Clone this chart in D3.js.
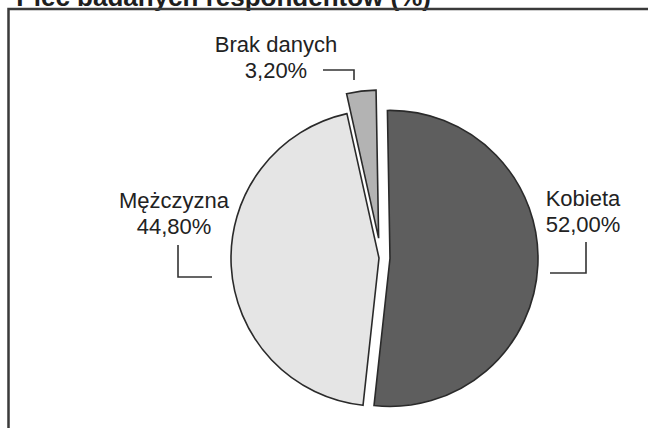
<!DOCTYPE html>
<html>
<head>
<meta charset="utf-8">
<script src="https://cdn.jsdelivr.net/npm/d3@7"></script>
<style>
  html, body { margin: 0; padding: 0; background: #ffffff; }
  svg { display: block; }
</style>
</head>
<body>
<svg id="chart" width="648" height="428"></svg>
<script>
// ---- data ----
const categories = ["Kobieta", "Mężczyzna", "Brak danych"];
const values = [52.0, 44.8, 3.2];
const titleText = "Płeć badanych respondentów (%)";

// ---- layout (not data) ----
const W = 648, H = 428;
const center = { x: 381, y: 258 };
const radius = 148;
const explode = [9, 2, 20];
const startDeg = -1;
const fills = ["#5e5e5e", "#e5e5e5", "#b3b3b3"];
const labelLayout = [
  { x: 583, y: 206, line: [[550, 273], [586, 273], [586, 242]] },
  { x: 174, y: 208, line: [[178, 245], [178, 277], [212, 277]] },
  { x: 276, y: 52,  line: [[323, 70], [354, 70], [354, 80]] }
];

const svg = d3.select("#chart");
svg.append("rect").attr("width", W).attr("height", H).attr("fill", "#ffffff");

// title (partly cut off at the top, as in the reference)
svg.append("text")
  .attr("x", 431).attr("y", 6)
  .attr("text-anchor", "end")
  .attr("font-family", "Liberation Sans, Arial, sans-serif")
  .attr("font-weight", "bold")
  .attr("font-size", 26)
  .attr("fill", "#1e1e1e")
  .text(titleText);

// frame
svg.append("path")
  .attr("d", `M8.5,${H + 5} L8.5,9 L${W + 5},9`)
  .attr("fill", "none")
  .attr("stroke", "#3a3a3a")
  .attr("stroke-width", 2.5);

const a0 = startDeg * Math.PI / 180;
const pie = d3.pie().sort(null).startAngle(a0).endAngle(a0 + 2 * Math.PI);
const arcs = pie(values);
const arc = d3.arc().innerRadius(0).outerRadius(radius);

const g = svg.append("g").attr("transform", `translate(${center.x},${center.y})`);
g.selectAll("path.slice")
  .data(arcs)
  .join("path")
  .attr("class", "slice")
  .attr("transform", (d, i) => {
    const m = (d.startAngle + d.endAngle) / 2;
    return `translate(${Math.sin(m) * explode[i]},${-Math.cos(m) * explode[i]})`;
  })
  .attr("d", arc)
  .attr("fill", (d, i) => fills[i])
  .attr("stroke", "#2a2a2a")
  .attr("stroke-width", 1.6)
  .attr("stroke-linejoin", "miter");

const fmt = v => d3.format(".2f")(v).replace(".", ",") + "%";

categories.forEach((c, i) => {
  const L = labelLayout[i];
  const t = svg.append("text")
    .attr("text-anchor", "middle")
    .attr("font-family", "Liberation Sans, Arial, sans-serif")
    .attr("font-size", 22)
    .attr("fill", "#222");
  t.append("tspan").attr("x", L.x).attr("y", L.y).text(c);
  t.append("tspan").attr("x", L.x).attr("y", L.y + 26).text(fmt(values[i]));
  svg.append("path")
    .attr("d", d3.line()(L.line))
    .attr("fill", "none")
    .attr("stroke", "#333")
    .attr("stroke-width", 1.6);
});
</script>
</body>
</html>
